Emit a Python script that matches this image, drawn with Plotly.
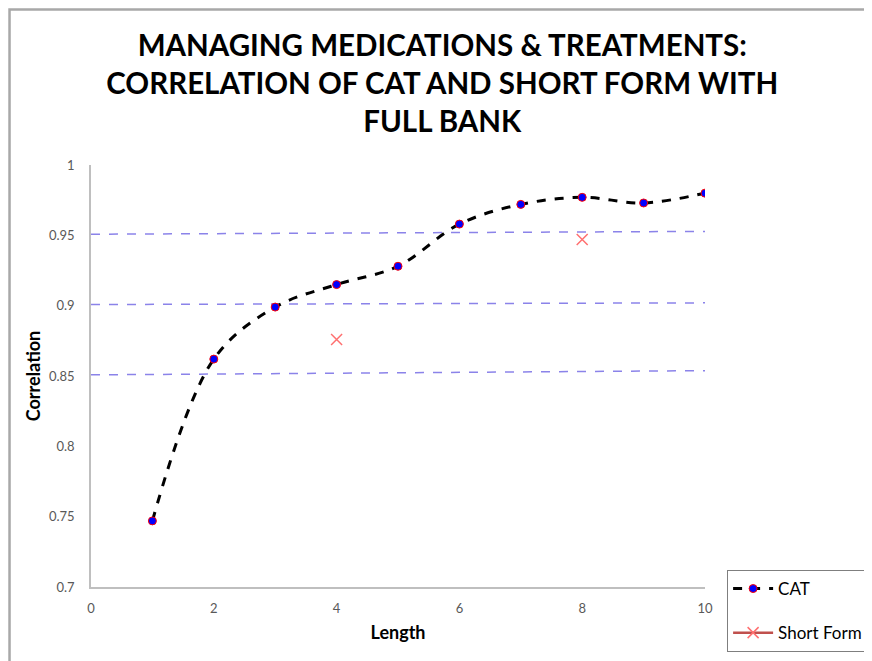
import plotly.graph_objects as go

length = [1, 2, 3, 4, 5, 6, 7, 8, 9, 10]
cat_corr = [0.747, 0.862, 0.899, 0.915, 0.928, 0.958, 0.972, 0.977, 0.973, 0.980]
sf_length = [4, 8]
sf_corr = [0.876, 0.947]
ref_levels = [0.95, 0.90, 0.85]
ref_tilt = [0.002, 0.0012, 0.003]

TITLE = "MANAGING MEDICATIONS & TREATMENTS:<br>CORRELATION OF CAT AND SHORT FORM WITH<br>FULL BANK"
FONT = "Lato"

fig = go.Figure()

fig.add_trace(go.Scatter(
    x=length, y=cat_corr, name="CAT", mode="lines+markers",
    line=dict(color="black", width=3, dash="dash", shape="spline", smoothing=1.0),
    marker=dict(symbol="circle", size=8, color="#0000ff", line=dict(color="#ff0000", width=1)),
    legendgroup="a", showlegend=True,
))

fig.add_trace(go.Scatter(
    x=sf_length, y=sf_corr, name="Short Form", mode="markers",
    marker=dict(symbol="x-thin", size=11, color="#ff7070", line=dict(color="#ff7070", width=1.5)),
    legendgroup="b", showlegend=False,
))
fig.add_trace(go.Scatter(
    x=[None], y=[None], name="Short Form", mode="lines+markers",
    line=dict(color="#c0504d", width=2.5),
    marker=dict(symbol="x-thin", size=11, color="#ff7070", line=dict(color="#ff7070", width=1.5)),
    legendgroup="b", showlegend=True,
))

shapes = []
for lv, tl in zip(ref_levels, ref_tilt):
    shapes.append(dict(type="line", xref="x", yref="y", x0=0, x1=10, y0=lv + 0.0008, y1=lv + 0.0008 + tl,
                       line=dict(color="rgba(100,90,225,0.75)", width=1.5, dash="dash"), layer="below"))
# outer frame (chart border, cut by window)
shapes.append(dict(type="rect", xref="paper", yref="paper", x0=-0.1327, x1=1.35, y0=-0.3, y1=1.3685,
                   line=dict(color="#a8a8a8", width=2.5), fillcolor="rgba(0,0,0,0)", layer="below"))

fig.update_layout(
    width=872, height=661,
    margin=dict(l=83, r=175, t=157, b=82),
    paper_bgcolor="white", plot_bgcolor="white",
    font=dict(family=FONT, color="#595959", size=13),
    title=dict(text=TITLE, x=0.498, xanchor="center", y=0.928, yanchor="top",
               font=dict(family=FONT, size=29.5, color="black", weight="bold")),
    shapes=shapes,
    showlegend=True,
    legend=dict(x=1.036, y=0.0403, xanchor="left", yanchor="top",
                bordercolor="#7f7f7f", borderwidth=1, bgcolor="white",
                font=dict(family=FONT, size=17, color="black"),
                itemwidth=40, tracegroupgap=19, traceorder="grouped"),
    xaxis=dict(range=[0, 10], dtick=2, tick0=0, showgrid=False, zeroline=False,
               showline=True, linecolor="#bfbfbf", linewidth=1.5, ticks="",
               ticklabelstandoff=9,
               title=dict(text="Length", font=dict(family=FONT, size=18, color="black", weight="bold"), standoff=11)),
    yaxis=dict(range=[0.7, 1.0], dtick=0.05, tick0=0.7, showgrid=False, zeroline=False,
               showline=True, linecolor="#bfbfbf", linewidth=1.5, ticks="",
               ticklabelstandoff=12,
               title=dict(text="Correlation", font=dict(family=FONT, size=18, color="black", weight="bold"), standoff=4)),
)

fig.write_html("out.html")
